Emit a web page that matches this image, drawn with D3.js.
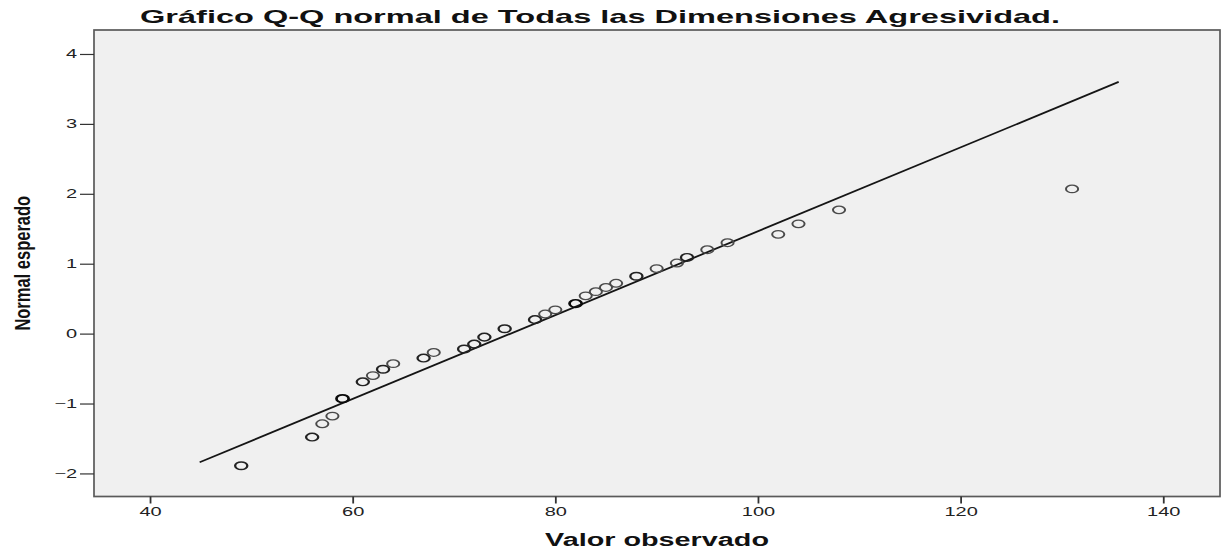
<!DOCTYPE html>
<html><head><meta charset="utf-8">
<script src="https://cdn.jsdelivr.net/npm/d3@7"></script>
<style>body{margin:0;background:#fff}</style></head>
<body>
<svg id="c" width="1221" height="553"></svg>
<script>
// ---- data ----
const observed = [49,56,57,58,59,61,62,63,64,67,68,71,72,73,75,78,79,80,82,83,84,85,86,88,90,92,93,95,97,102,104,108,131];
const expected = [-1.89,-1.48,-1.29,-1.18,-0.93,-0.69,-0.60,-0.51,-0.43,-0.35,-0.27,-0.22,-0.15,-0.05,0.07,0.20,0.28,0.34,0.43,0.54,0.60,0.66,0.72,0.82,0.93,1.01,1.09,1.20,1.30,1.42,1.57,1.77,2.07];
const counts   = [2,2,1,1,3,2,1,2,1,2,1,2,2,2,2,2,1,1,3,1,1,1,1,2,1,1,2,1,1,1,1,1,1];
const lineObserved = [44.9, 135.6];
const lineExpected = [-1.84, 3.60];
const xTicks = [40,60,80,100,120,140];
const yTicks = [-2,-1,0,1,2,3,4];
const titleText = "Gráfico Q-Q normal de Todas las Dimensiones Agresividad.";
const xLabel = "Valor observado";
const yLabel = "Normal esperado";

// ---- layout ----
const SX = 1.6; // horizontal stretch of the original picture
const pL = 94, pR = 1220, pT = 30, pB = 496.5;
const font = "'Liberation Sans', Arial, sans-serif";
const svg = d3.select("#c");

const x = d3.scaleLinear().domain([34.47, 145.6]).range([pL, pR]);
const y = d3.scaleLinear().domain([-2.33, 4.343]).range([pB, pT]);

// plot background + frame
svg.append("rect").attr("x", pL).attr("y", pT)
  .attr("width", pR - pL).attr("height", pB - pT)
  .attr("fill", "#f0f0f0").attr("stroke", "#5a5a5a").attr("stroke-width", 1.7);

// axes
const xAxis = svg.append("g").attr("transform", `translate(0,${pB})`)
  .call(d3.axisBottom(x).tickValues(xTicks).tickSize(7).tickPadding(4).tickFormat(d3.format("d")));
xAxis.select(".domain").remove();
xAxis.selectAll("line").attr("stroke", "#333").attr("stroke-width", 1.8);
xAxis.selectAll("text").attr("font-family", font).attr("font-size", 12.5).attr("fill", "#222")
  .attr("transform", `scale(${SX},1)`);

const yAxis = svg.append("g").attr("transform", `translate(${pL},0)`)
  .call(d3.axisLeft(y).tickValues(yTicks).tickSize(14).tickPadding(3).tickFormat(d3.format("d")));
yAxis.select(".domain").remove();
yAxis.selectAll("line").attr("stroke", "#333").attr("stroke-width", 1.2);
yAxis.selectAll("text").attr("font-family", font).attr("font-size", 12.5).attr("fill", "#222")
  .attr("x", -17 / SX).attr("transform", `scale(${SX},1)`);

// fit line
svg.append("line")
  .attr("x1", x(lineObserved[0])).attr("y1", y(lineExpected[0]))
  .attr("x2", x(lineObserved[1])).attr("y2", y(lineExpected[1]))
  .attr("stroke", "#151515").attr("stroke-width", 1.8);

// points
const pts = d3.range(observed.length).map(i => ({v: observed[i], z: expected[i], n: counts[i]}));
svg.append("g").selectAll("g").data(pts).join("g")
  .attr("transform", d => `translate(${x(d.v)},${y(d.z)}) scale(${SX},1)`)
  .append("circle").attr("r", 3.8).attr("fill", "none")
  .attr("stroke", d => d.n >= 3 ? "#0a0a0a" : d.n === 2 ? "#222" : "#4a4a4a")
  .attr("stroke-width", d => d.n >= 3 ? 1.7 : d.n === 2 ? 1.45 : 1.25);

// title
svg.append("text").attr("transform", `translate(600,23) scale(${SX},1)`)
  .attr("text-anchor", "middle").attr("font-family", font).attr("font-weight", "bold")
  .attr("font-size", 18.5).attr("fill", "#111")
  .attr("textLength", 920 / SX).attr("lengthAdjust", "spacingAndGlyphs")
  .text(titleText);

// x label
svg.append("text").attr("transform", `translate(${(pL + pR) / 2},546) scale(${SX},1)`)
  .attr("text-anchor", "middle").attr("font-family", font).attr("font-weight", "bold")
  .attr("font-size", 18).attr("fill", "#111").text(xLabel);

// y label
svg.append("text").attr("transform", `translate(30,${(pT + pB) / 2}) scale(1.35,1) rotate(-90)`)
  .attr("text-anchor", "middle").attr("font-family", font).attr("font-weight", "bold")
  .attr("font-size", 16.5).attr("fill", "#111").text(yLabel);
</script>
</body></html>
